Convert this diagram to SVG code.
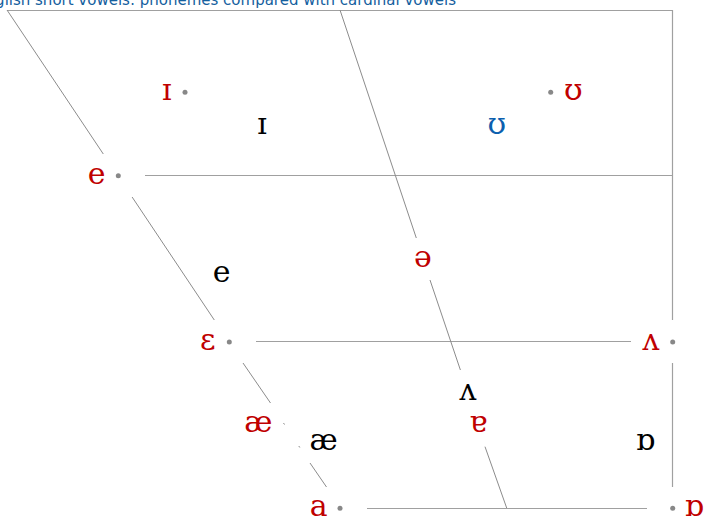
<svg xmlns="http://www.w3.org/2000/svg" width="705" height="521" viewBox="0 0 705 521">
<style>
.ln{stroke:#8c8c8c;stroke-width:1;fill:none}
.hz{stroke:#a0a0a0;stroke-width:1.2;fill:none}
.dot{fill:#888}
.v{font-family:"DejaVu Serif",serif;font-size:30px;text-anchor:middle}
.r{fill:#c00000}
.k{fill:#000}
.b{fill:#0c5fae}
.title{font-family:"DejaVu Sans",sans-serif;font-size:15px;fill:#14609e;text-anchor:end}
</style>
<rect width="705" height="521" fill="#fff"/>
<text class="title" x="456" y="5">English short vowels: phonemes compared with cardinal vowels</text>
<g id="connectors">
<line class="hz" x1="7" y1="10.5" x2="672.5" y2="10.5"/>
<line class="hz" x1="672.5" y1="10" x2="672.5" y2="320"/>
<line class="hz" x1="672.5" y1="363" x2="672.5" y2="487"/>
<line class="hz" x1="145" y1="175.5" x2="672.5" y2="175.5"/>
<line class="hz" x1="256" y1="341.5" x2="631" y2="341.5"/>
<line class="hz" x1="367" y1="508.5" x2="647" y2="508.5"/>
<line class="ln" x1="7" y1="10" x2="103.3" y2="154"/>
<line class="ln" x1="132.1" y1="197" x2="214.3" y2="320"/>
<line class="ln" x1="243" y1="363" x2="270.5" y2="403"/>
<line class="ln" x1="283.5" y1="423" x2="284.5" y2="424.5"/>
<line class="ln" x1="298.8" y1="446" x2="299.8" y2="447.5"/>
<line class="ln" x1="310" y1="463" x2="326.5" y2="487"/>
<line class="ln" x1="340" y1="10" x2="416.3" y2="238"/>
<line class="ln" x1="430" y1="280" x2="460.4" y2="370"/>
<line class="ln" x1="485" y1="446.7" x2="506.7" y2="508"/>
</g>
<g id="card-e"><circle class="dot" cx="118.3" cy="175.7" r="2.5"/><text class="v r" x="96.7" y="184">e</text></g>
<g id="card-eps"><circle class="dot" cx="229.3" cy="342" r="2.5"/><text class="v r" x="207.7" y="350">ɛ</text></g>
<g id="card-a"><circle class="dot" cx="340" cy="508.3" r="2.5"/><text class="v r" x="318.8" y="516">a</text></g>
<g id="card-turnedv"><circle class="dot" cx="672.7" cy="342" r="2.5"/><text class="v r" x="651" y="350">ʌ</text></g>
<g id="card-turneda"><circle class="dot" cx="672.7" cy="508.3" r="2.5"/><text class="v r" x="694" y="516">ɒ</text></g>
<g id="card-smallI"><circle class="dot" cx="185" cy="92.3" r="2.5"/><text class="v r" x="166.7" y="100">ɪ</text></g>
<g id="card-upsilon"><circle class="dot" cx="550.7" cy="92.3" r="2.5"/><text class="v r" x="573.3" y="100">ʊ</text></g>
<g id="card-schwa"><text class="v r" x="423" y="267">ə</text></g>
<g id="card-ae"><text class="v r" x="258.3" y="432">æ</text></g>
<g id="card-turnedA"><text class="v r" x="478.3" y="432">ɐ</text></g>
<g id="eng-I"><text class="v k" x="262" y="134">ɪ</text></g>
<g id="eng-U"><text class="v b" x="496.7" y="134">ʊ</text></g>
<g id="eng-e"><text class="v k" x="221.7" y="282">e</text></g>
<g id="eng-V"><text class="v k" x="468" y="400">ʌ</text></g>
<g id="eng-ae"><text class="v k" x="323.7" y="450">æ</text></g>
<g id="eng-Q"><text class="v k" x="645.3" y="450">ɒ</text></g>
</svg>
